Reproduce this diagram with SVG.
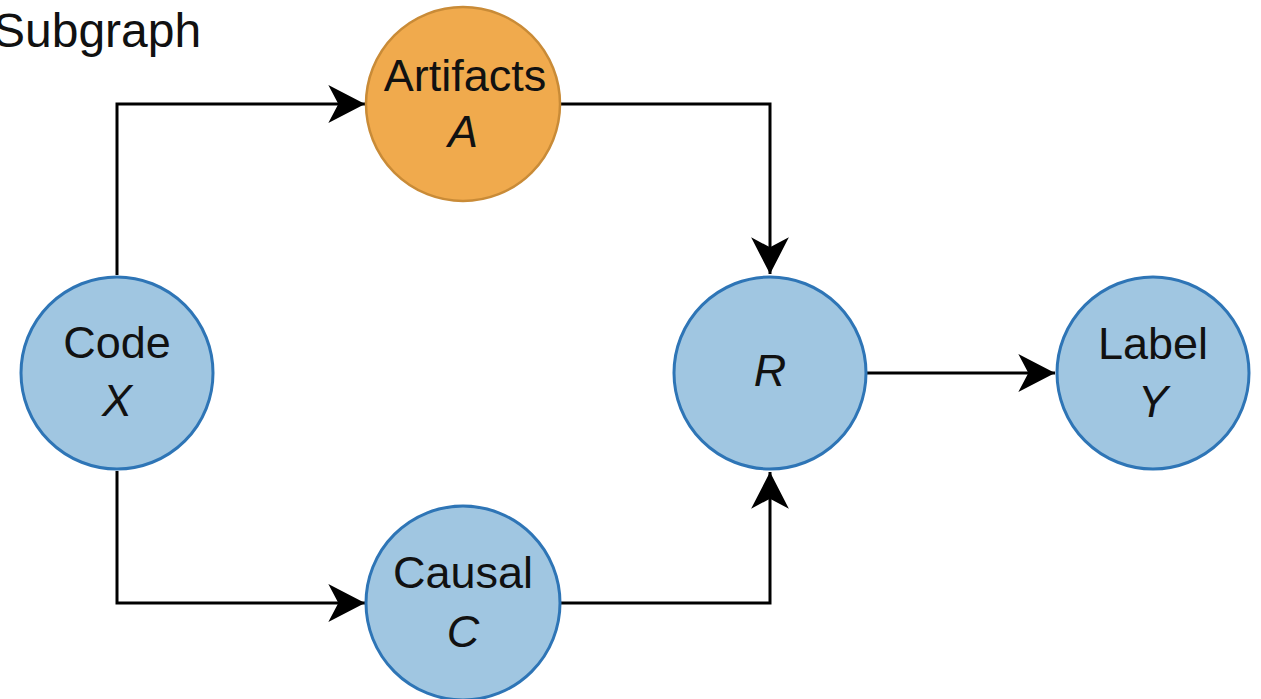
<svg xmlns="http://www.w3.org/2000/svg" width="1261" height="699" viewBox="0 0 1261 699">
<defs>
<style>
.n{fill:#a0c6e1;stroke:#2e75b6;stroke-width:3}
.o{fill:#f0aa4d;stroke:#c98b37;stroke-width:2.5}
.t{font-family:"Liberation Sans",Arial,sans-serif;font-size:45px;fill:#111;text-anchor:middle}
.i{font-style:italic}
.e{fill:none;stroke:#000;stroke-width:3}
</style>
<marker id="ah" markerUnits="userSpaceOnUse" markerWidth="40" markerHeight="40" viewBox="-34 -18 36 36" refX="0" refY="0" orient="auto">
<path d="M0,0 L-33,-17 L-24,0 L-33,17 Z" fill="#000"/>
</marker>
</defs>
<rect width="1261" height="699" fill="#fff"/>
<text x="-7" y="47" style="font-family:'Liberation Sans',Arial,sans-serif;font-size:48px;fill:#111">Subgraph</text>
<g id="edges">
<path class="e" d="M117,275 V104 H365" marker-end="url(#ah)"/>
<path class="e" d="M117,471 V603 H365" marker-end="url(#ah)"/>
<path class="e" d="M560,104 H770 V274" marker-end="url(#ah)"/>
<path class="e" d="M560,603 H770 V472" marker-end="url(#ah)"/>
<path class="e" d="M867,373 H1055" marker-end="url(#ah)"/>
</g>
<g id="code">
<circle class="n" cx="117" cy="373" r="96"/>
<text class="t" x="117" y="358">Code</text>
<text class="t i" x="117" y="416">X</text>
</g>
<g id="artifacts">
<circle class="o" cx="463" cy="104" r="97"/>
<text class="t" x="465" y="91">Artifacts</text>
<text class="t i" x="463" y="147">A</text>
</g>
<g id="causal">
<circle class="n" cx="463" cy="603" r="97"/>
<text class="t" x="463" y="588">Causal</text>
<text class="t i" x="463" y="647">C</text>
</g>
<g id="r">
<circle class="n" cx="770" cy="373" r="96"/>
<text class="t i" x="770" y="386">R</text>
</g>
<g id="label">
<circle class="n" cx="1153" cy="373" r="96"/>
<text class="t" x="1153" y="359">Label</text>
<text class="t i" x="1153" y="417">Y</text>
</g>
</svg>
